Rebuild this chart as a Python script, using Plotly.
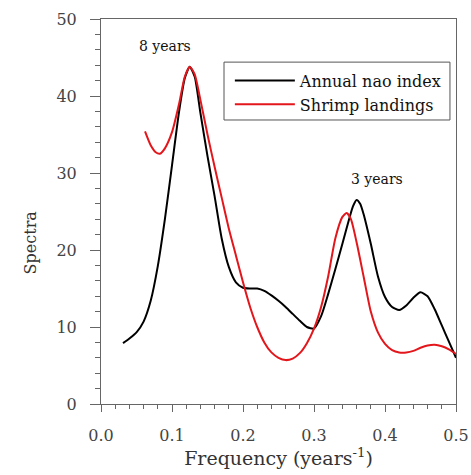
import plotly.graph_objects as go

# Annual NAO index spectrum
nao_freq = [0.031, 0.04, 0.05, 0.06, 0.07, 0.08, 0.09, 0.10, 0.11, 0.118, 0.125, 0.132,
            0.14, 0.15, 0.16, 0.17, 0.18, 0.19, 0.20, 0.21, 0.22, 0.23, 0.24, 0.25,
            0.26, 0.27, 0.28, 0.29, 0.30, 0.31, 0.32, 0.33, 0.34, 0.35, 0.355, 0.36,
            0.365, 0.37, 0.38, 0.39, 0.40, 0.41, 0.42, 0.43, 0.44, 0.45, 0.46, 0.47,
            0.48, 0.49, 0.50]
nao_spec = [7.9, 8.5, 9.3, 10.7, 13.4, 17.9, 24.0, 31.0, 38.0, 42.3, 43.8, 42.5,
            37.8, 32.2, 27.0, 21.5, 17.8, 15.8, 15.1, 15.0, 15.0, 14.7, 14.1, 13.4,
            12.6, 11.7, 10.8, 10.0, 9.8, 11.4, 14.3, 17.5, 20.8, 24.2, 25.7, 26.5,
            26.0, 24.6, 20.8, 16.6, 13.9, 12.6, 12.2, 12.8, 13.8, 14.5, 14.0, 12.3,
            10.2, 8.1, 6.0]

# Shrimp landings spectrum
shrimp_freq = [0.062, 0.07, 0.077, 0.083, 0.09, 0.10, 0.11, 0.118, 0.125, 0.132, 0.14,
               0.15, 0.16, 0.17, 0.18, 0.19, 0.20, 0.21, 0.22, 0.23, 0.24, 0.25, 0.26,
               0.27, 0.28, 0.29, 0.30, 0.31, 0.32, 0.33, 0.34, 0.346, 0.352, 0.36, 0.37,
               0.38, 0.39, 0.40, 0.41, 0.42, 0.43, 0.44, 0.45, 0.46, 0.47, 0.48, 0.49, 0.50]
shrimp_spec = [35.4, 33.6, 32.7, 32.5, 33.2, 35.3, 39.0, 42.5, 43.8, 42.8, 39.5,
               35.0, 30.8, 26.8, 22.8, 19.3, 15.8, 12.6, 10.0, 8.0, 6.7, 6.0, 5.7,
               5.9, 6.6, 7.9, 9.8, 12.6, 16.6, 21.5, 24.3, 24.8, 24.0, 21.0, 16.5,
               12.0, 9.3, 7.8, 7.0, 6.7, 6.7, 6.9, 7.3, 7.6, 7.7, 7.5, 7.1, 6.5]

x_ticks = [0.0, 0.1, 0.2, 0.3, 0.4, 0.5]
y_ticks = [0, 10, 20, 30, 40, 50]

serif = "DejaVu Serif"
axis_col = "#666"

fig = go.Figure()
fig.add_trace(go.Scatter(x=nao_freq, y=nao_spec, mode="lines", name="Annual nao index",
                         line=dict(color="black", width=2, shape="spline", smoothing=0.6)))
fig.add_trace(go.Scatter(x=shrimp_freq, y=shrimp_spec, mode="lines", name="Shrimp landings",
                         line=dict(color="#e3161b", width=2, shape="spline", smoothing=0.6)))

fig.add_annotation(x=0.090, y=46.5, text="8 years", showarrow=False,
                   font=dict(family=serif, size=14, color="#111"))
fig.add_annotation(x=0.389, y=29.2, text="3 years", showarrow=False,
                   font=dict(family=serif, size=14, color="#111"))
# y-axis title (placed lower than the axis centre, as in the original)
fig.add_annotation(xref="paper", yref="paper", x=-0.231, y=0.421, text="Spectra",
                   textangle=-90, showarrow=False,
                   font=dict(family=serif, size=16, color="#333"))

# legend frame
fig.add_shape(type="rect", xref="paper", yref="paper", x0=0.3465, x1=0.983, y0=0.7377, y1=0.888,
              line=dict(color="#555", width=1), fillcolor="white", layer="above")

fig.update_layout(
    width=471, height=475,
    margin=dict(l=101, r=15, t=19, b=71),
    paper_bgcolor="white", plot_bgcolor="white",
    showlegend=True,
    legend=dict(x=0.363, y=0.884, xanchor="left", yanchor="top",
                borderwidth=0, bgcolor="rgba(0,0,0,0)",
                font=dict(family=serif, size=16, color="#111"),
                tracegroupgap=0, itemwidth=60),
    font=dict(family=serif, size=15, color="#333"),
)
fig.update_xaxes(range=[0, 0.5], tickvals=x_ticks, ticktext=[f"{v:.1f}" for v in x_ticks],
                 automargin=False,
                 ticks="outside", ticklen=7, tickcolor=axis_col, showgrid=False, zeroline=False,
                 showline=True, linecolor=axis_col, linewidth=1, mirror=True,
                 minor=dict(dtick=0.02, ticks="outside", ticklen=4, tickcolor=axis_col),
                 tickfont=dict(family=serif, size=16, color="#444"),
                 ticklabelstandoff=10,
                 title=dict(text="Frequency (years<sup>-1</sup>)", standoff=7,
                            font=dict(family=serif, size=19, color="#333")))
fig.update_yaxes(range=[0, 50], tickvals=y_ticks, automargin=False,
                 ticks="outside", ticklen=10, tickcolor=axis_col,
                 showgrid=False, zeroline=False,
                 showline=True, linecolor=axis_col, linewidth=1, mirror=True,
                 minor=dict(dtick=2, ticks="outside", ticklen=5, tickcolor=axis_col),
                 tickfont=dict(family=serif, size=16, color="#444"),
                 ticklabelstandoff=10)

fig.write_html("out.html")
